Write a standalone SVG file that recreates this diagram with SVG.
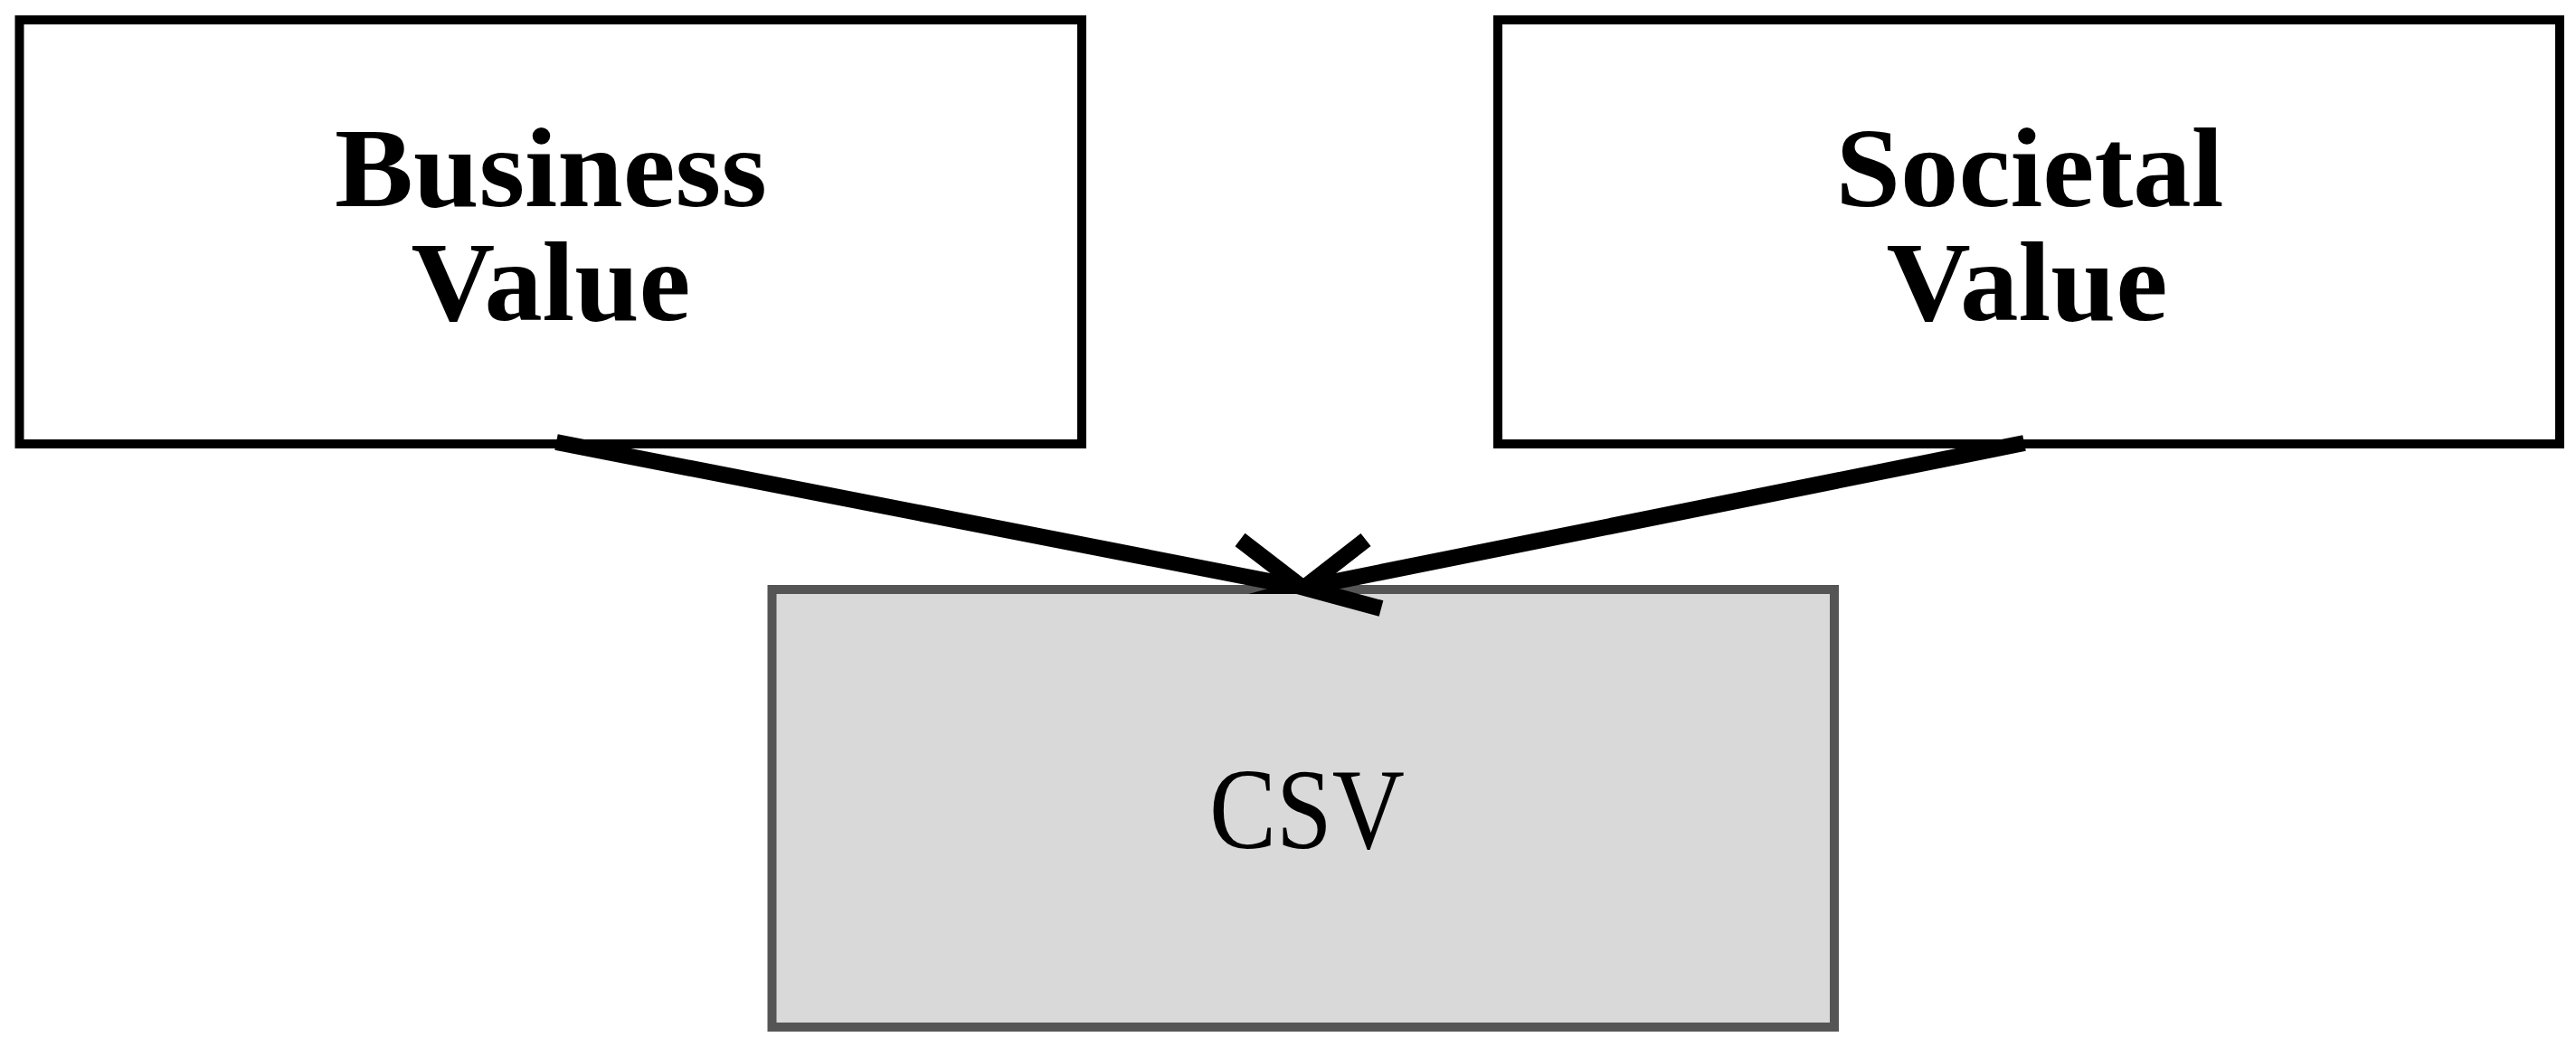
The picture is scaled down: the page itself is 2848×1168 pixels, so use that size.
<svg xmlns="http://www.w3.org/2000/svg" width="2848" height="1168" viewBox="0 0 2848 1168">
  <style>
    .box { fill: #ffffff; stroke: #000000; stroke-width: 10; }
    .csv { fill: #d9d9d9; stroke: #555555; stroke-width: 10; }
    .lbl { font-family: "Liberation Serif", "Times New Roman", serif; font-size: 124px; fill: #000000; text-anchor: middle; }
    .csvlbl { font-size: 128px; }
    .bold { font-weight: bold; }
    .conn { fill: none; stroke: #000000; stroke-width: 18; stroke-linecap: butt; stroke-linejoin: miter; stroke-miterlimit: 10; }
  </style>
  <defs>
    <clipPath id="outsideCsv">
      <path clip-rule="evenodd" d="M0,0H2848V1168H0Z M858,657H2023V1131H858Z"/>
    </clipPath>
  </defs>
  <rect width="2848" height="1168" fill="#ffffff"/>

  <g id="node-business-value">
    <rect class="box" x="21.5" y="22" width="1174.5" height="469"/>
    <text class="lbl bold" x="609" y="228" textLength="478" lengthAdjust="spacingAndGlyphs">Business</text>
    <text class="lbl bold" x="609" y="354" textLength="309" lengthAdjust="spacingAndGlyphs">Value</text>
  </g>

  <g id="node-societal-value">
    <rect class="box" x="1656" y="22" width="1174" height="469"/>
    <text class="lbl bold" x="2244" y="228" textLength="429" lengthAdjust="spacingAndGlyphs">Societal</text>
    <text class="lbl bold" x="2241" y="354" textLength="311" lengthAdjust="spacingAndGlyphs">Value</text>
  </g>

  <g id="node-csv">
    <rect class="csv" x="853.5" y="652" width="1174.5" height="484"/>
    <text class="lbl csvlbl" x="1445" y="938" textLength="216" lengthAdjust="spacingAndGlyphs">CSV</text>
  </g>

  <g id="connectors">
    <g id="edge-business-csv" clip-path="url(#outsideCsv)">
      <path class="conn" d="M615,489 L1440,650"/>
      <path class="conn" d="M1371,597 L1440,650 L1356,673"/>
    </g>
    <g id="edge-societal-csv">
      <path class="conn" d="M2238,490 L1442,650"/>
      <path class="conn" d="M1510,597 L1442,650 L1527,673"/>
    </g>
  </g>
</svg>
